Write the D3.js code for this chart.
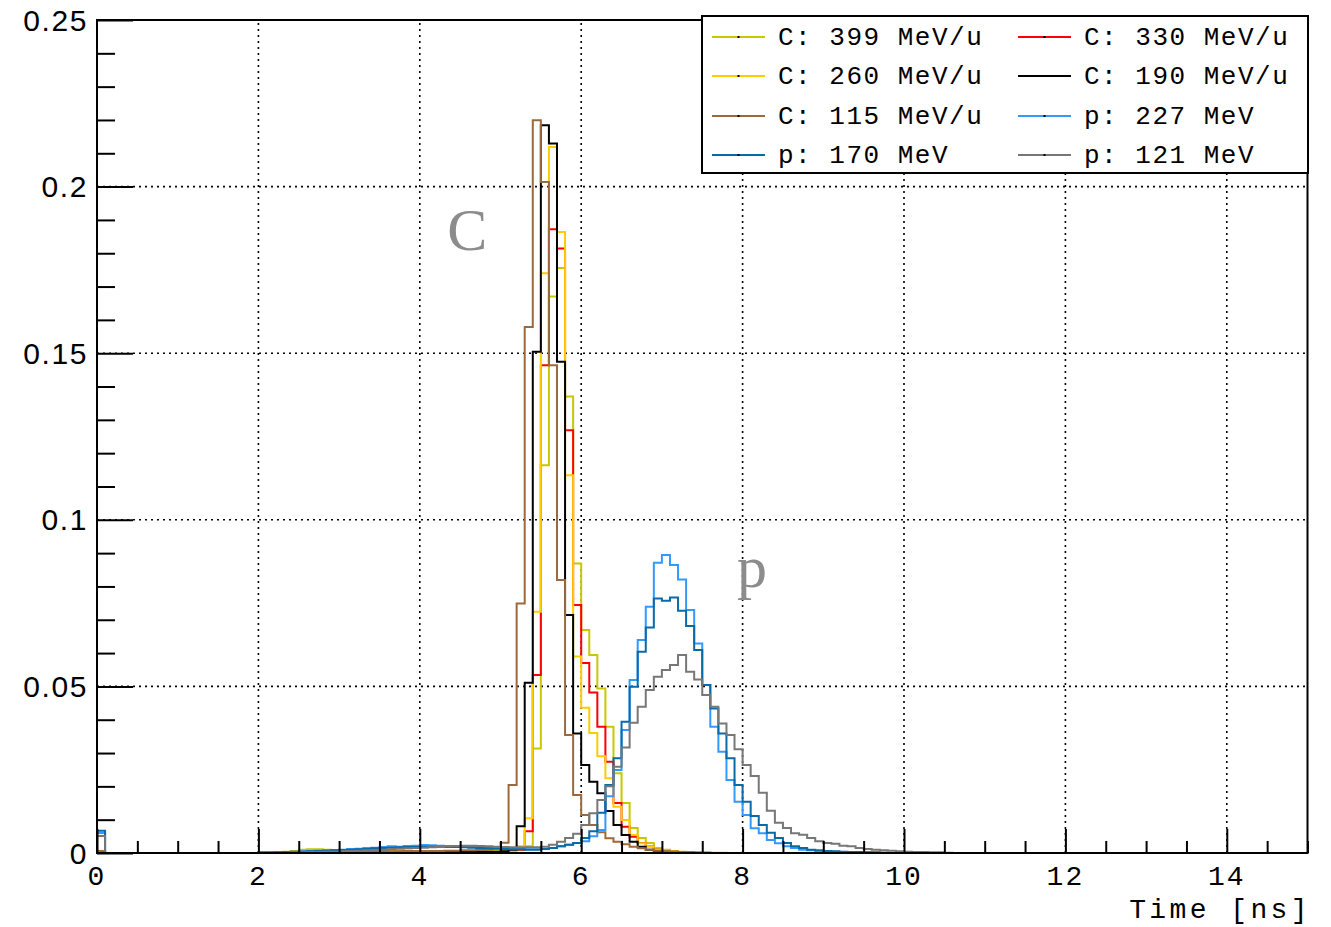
<!DOCTYPE html>
<html>
<head>
<meta charset="utf-8">
<script src="https://cdn.jsdelivr.net/npm/d3@7"></script>
<style>
  html, body { margin: 0; padding: 0; background: #fff; }
  svg { display: block; }
</style>
</head>
<body>
<svg id="chart" width="1331" height="927"></svg>
<script>
// ---------------- DATA ----------------
// Histogram: 150 bins of 0.1 ns from 0 to 15 ns, normalised counts.
const binWidth = 0.1;
const nBins = 150;
// bin index where each series array below starts (2.0 ns)
const seriesStartBin = 20;

const seriesNames = ["C: 399 MeV/u", "C: 330 MeV/u", "C: 260 MeV/u", "C: 190 MeV/u",
                     "C: 115 MeV/u", "p: 227 MeV", "p: 170 MeV", "p: 121 MeV"];
const seriesColors = ["#c8c800", "#ff0000", "#ffcc00", "#000000",
                      "#9c6a3a", "#3399ff", "#0a6aa6", "#777777"];
// value of the first bin (0.0-0.1 ns) for each series
const firstBinValues = [0.0005, 0.0005, 0.0005, 0.0004, 0.0005, 0.0060, 0.0067, 0.0051];

// values from 2.0 ns onwards (bins 20, 21, ...)
const c399 = [
  0.0001,0.0002,0.0003,0.0004,0.0006,0.0010,0.0011,0.0011,0.0010,0.0009, // 2.0-2.9
  0.0008,0.0008,0.0007,0.0007,0.0008,0.0007,0.0007,0.0006,0.0007,0.0006, // 3.0-3.9
  0.0006,0.0006,0.0005,0.0006,0.0005,0.0005,0.0005,0.0006,0.0006,0.0007, // 4.0-4.9
  0.0008,0.0008,0.0010,0.0020,0.0314,0.1164,0.1670,0.1756,0.1370,0.0869, // 5.0-5.9
  0.0669,0.0594,0.0494,0.0379,0.0239,0.0150,0.0075,0.0045,0.0030,0.0015, // 6.0-6.9
  0.0010,0.0006,0.0004,0.0003,0.0002,0.0002,0.0001,0.0001                // 7.0-7.7
];
const c330 = [
  0.0001,0.0001,0.0002,0.0003,0.0003,0.0004,0.0005,0.0005,0.0004,0.0005,
  0.0004,0.0004,0.0005,0.0004,0.0004,0.0005,0.0004,0.0004,0.0004,0.0005,
  0.0004,0.0004,0.0004,0.0005,0.0004,0.0004,0.0004,0.0005,0.0005,0.0006,
  0.0007,0.0008,0.0010,0.0065,0.0534,0.1464,0.1872,0.1814,0.1269,0.0744,
  0.0570,0.0482,0.0379,0.0274,0.0150,0.0079,0.0049,0.0030,0.0020,0.0010,
  0.0006,0.0004,0.0003,0.0002,0.0001,0.0001
];
const c260 = [
  0.0001,0.0001,0.0002,0.0002,0.0003,0.0004,0.0004,0.0005,0.0005,0.0004,
  0.0005,0.0004,0.0004,0.0005,0.0004,0.0004,0.0005,0.0004,0.0004,0.0004,
  0.0005,0.0004,0.0004,0.0004,0.0004,0.0005,0.0004,0.0004,0.0005,0.0006,
  0.0007,0.0008,0.0020,0.0104,0.0724,0.1740,0.2119,0.1864,0.1134,0.0590,
  0.0436,0.0360,0.0290,0.0224,0.0139,0.0099,0.0054,0.0029,0.0020,0.0010,
  0.0006,0.0004,0.0003,0.0002,0.0001,0.0001
];
const c190 = [
  0.0001,0.0001,0.0001,0.0002,0.0002,0.0003,0.0003,0.0003,0.0003,0.0003,
  0.0003,0.0003,0.0003,0.0003,0.0003,0.0003,0.0003,0.0003,0.0003,0.0003,
  0.0003,0.0003,0.0003,0.0003,0.0003,0.0003,0.0003,0.0004,0.0004,0.0004,
  0.0005,0.0010,0.0080,0.0511,0.1504,0.2184,0.2129,0.1474,0.0714,0.0359,
  0.0264,0.0214,0.0179,0.0126,0.0084,0.0054,0.0034,0.0019,0.0010,0.0006,
  0.0004,0.0003,0.0002,0.0001
];
const c115 = [
  0.0001,0.0002,0.0002,0.0003,0.0004,0.0004,0.0005,0.0005,0.0005,0.0005,
  0.0005,0.0005,0.0005,0.0005,0.0005,0.0006,0.0005,0.0005,0.0006,0.0005,
  0.0006,0.0006,0.0006,0.0007,0.0007,0.0008,0.0008,0.0009,0.0011,0.0015,
  0.0031,0.0204,0.0749,0.1579,0.2199,0.2014,0.1464,0.0819,0.0354,0.0174,
  0.0114,0.0084,0.0062,0.0044,0.0034,0.0026,0.0019,0.0014,0.0010,0.0007,
  0.0005,0.0004,0.0003,0.0002,0.0001
];
const p227 = [
  0.0001,0.0002,0.0002,0.0003,0.0004,0.0005,0.0006,0.0007,0.0008,0.0009,
  0.0010,0.0012,0.0013,0.0015,0.0016,0.0018,0.0020,0.0019,0.0021,0.0022,
  0.0024,0.0023,0.0022,0.0021,0.0020,0.0019,0.0018,0.0016,0.0015,0.0014,
  0.0013,0.0012,0.0012,0.0011,0.0011,0.0012,0.0015,0.0020,0.0025,0.0030,
  0.0035,0.0050,0.0069,0.0170,0.0249,0.0369,0.0519,0.0639,0.0739,0.0871,
  0.0894,0.0864,0.0821,0.0729,0.0629,0.0504,0.0379,0.0304,0.0219,0.0154,
  0.0114,0.0074,0.0059,0.0039,0.0029,0.0020,0.0015,0.0010,0.0008,0.0006,
  0.0005,0.0004,0.0003,0.0003,0.0002,0.0002,0.0001,0.0001
];
const p170 = [
  0.0001,0.0001,0.0002,0.0003,0.0003,0.0004,0.0005,0.0006,0.0007,0.0008,
  0.0009,0.0010,0.0011,0.0012,0.0014,0.0015,0.0016,0.0017,0.0018,0.0018,
  0.0019,0.0019,0.0019,0.0018,0.0018,0.0017,0.0016,0.0015,0.0014,0.0013,
  0.0012,0.0011,0.0011,0.0010,0.0010,0.0012,0.0015,0.0020,0.0025,0.0030,
  0.0045,0.0065,0.0121,0.0204,0.0284,0.0394,0.0499,0.0604,0.0677,0.0764,
  0.0757,0.0767,0.0727,0.0681,0.0609,0.0504,0.0434,0.0359,0.0284,0.0204,
  0.0154,0.0111,0.0084,0.0061,0.0045,0.0030,0.0020,0.0015,0.0010,0.0008,
  0.0006,0.0005,0.0004,0.0003,0.0003,0.0002,0.0002,0.0001
];
const p121 = [
  0.0000,0.0001,0.0001,0.0001,0.0002,0.0002,0.0003,0.0003,0.0004,0.0004,
  0.0005,0.0006,0.0007,0.0008,0.0009,0.0010,0.0012,0.0013,0.0014,0.0015,
  0.0016,0.0017,0.0018,0.0020,0.0021,0.0022,0.0022,0.0021,0.0020,0.0019,
  0.0018,0.0017,0.0017,0.0017,0.0017,0.0019,0.0025,0.0034,0.0045,0.0058,
  0.0084,0.0119,0.0159,0.0200,0.0259,0.0317,0.0391,0.0439,0.0489,0.0529,
  0.0549,0.0564,0.0594,0.0544,0.0521,0.0474,0.0439,0.0389,0.0354,0.0311,
  0.0264,0.0231,0.0181,0.0127,0.0091,0.0075,0.0059,0.0055,0.0045,0.0035,
  0.0030,0.0028,0.0022,0.0020,0.0015,0.0012,0.0010,0.0008,0.0007,0.0005,
  0.0004,0.0003,0.0003,0.0002,0.0002,0.0001
];
const seriesValues = [c399, c330, c260, c190, c115, p227, p170, p121];

const xMajorTicks = [0, 2, 4, 6, 8, 10, 12, 14];
const yMajorTicks = [0, 0.05, 0.1, 0.15, 0.2, 0.25];
const yTickLabels = ["0", "0.05", "0.1", "0.15", "0.2", "0.25"];
const xTitle = "Time [ns]";
const annotations = [{text: "C", t: 4.34, v: 0.181}, {text: "p", t: 7.93, v: 0.0798}];

// ---------------- DRAW ----------------
(function () {
const svg = d3.select("#chart");
const pL = 97, pR = 1307.5, pT = 20, pB = 853;
const x = d3.scaleLinear().domain([0, 15]).range([pL, pR]);
const y = d3.scaleLinear().domain([0, 0.25]).range([pB, pT]);

// grid
const grid = svg.append("g").attr("stroke", "#000").attr("stroke-width", 1.6)
  .attr("stroke-dasharray", "2 4");
xMajorTicks.filter(t => t > 0).forEach(t => {
  grid.append("line").attr("x1", x(t)).attr("x2", x(t)).attr("y1", y(0)).attr("y2", y(0.25));
});
yMajorTicks.filter(v => v > 0 && v < 0.25).forEach(v => {
  grid.append("line").attr("x1", x(0)).attr("x2", x(15)).attr("y1", y(v)).attr("y2", y(v));
});

// histograms
function fullBins(i) {
  const arr = new Array(nBins).fill(0);
  arr[0] = firstBinValues[i];
  seriesValues[i].forEach((v, k) => { arr[seriesStartBin + k] = v; });
  return arr;
}
const histG = svg.append("g").attr("fill", "none").attr("stroke-width", 2)
  .attr("stroke-linejoin", "miter");
seriesValues.forEach((_, i) => {
  const bins = fullBins(i);
  let d = `M${x(0)},${y(0)}`;
  bins.forEach((v, k) => {
    d += `V${y(v)}H${x((k + 1) * binWidth)}`;
  });
  d += `V${y(0)}`;
  histG.append("path").attr("d", d).attr("stroke", seriesColors[i]);
});

// frame
svg.append("rect").attr("x", pL).attr("y", pT).attr("width", pR - pL)
  .attr("height", pB - pT).attr("fill", "none").attr("stroke", "#000").attr("stroke-width", 2);

// x axis ticks (inside) and labels
const xAxis = d3.axisBottom(x)
  .tickValues(d3.range(0, 15.01, 0.5))
  .tickSize(0).tickFormat("");
const xAxisG = svg.append("g").attr("transform", `translate(0,${pB})`).call(xAxis);
xAxisG.select(".domain").remove();
xAxisG.selectAll(".tick").append("line")
  .attr("y1", 0)
  .attr("y2", d => (Math.abs(d % 2) < 1e-9 ? -24 : -12))
  .attr("stroke", "#000").attr("stroke-width", 2);
svg.append("g").selectAll("text").data(xMajorTicks).join("text")
  .attr("x", d => x(d)).attr("y", pB + 32)
  .attr("text-anchor", "middle")
  .attr("font-family", "Liberation Mono, monospace").attr("font-size", 28)
  .attr("letter-spacing", 2)
  .text(d => d);

// y axis ticks (inside) and labels
const yAxis = d3.axisLeft(y).tickValues(d3.range(0, 0.2501, 0.01)).tickSize(0).tickFormat("");
const yAxisG = svg.append("g").attr("transform", `translate(${pL},0)`).call(yAxis);
yAxisG.select(".domain").remove();
yAxisG.selectAll(".tick").append("line")
  .attr("x1", 0)
  .attr("x2", (d, i) => (i % 5 === 0 ? 36 : 18))
  .attr("stroke", "#000").attr("stroke-width", 2);
svg.append("g").selectAll("text").data(yMajorTicks).join("text")
  .attr("x", pL - 9).attr("y", d => y(d) + 10.5)
  .attr("text-anchor", "end")
  .attr("font-family", "Liberation Sans, Arial, sans-serif").attr("font-size", 30)
  .attr("letter-spacing", 1.6)
  .text((d, i) => yTickLabels[i]);

// x title
svg.append("text").attr("x", 1311).attr("y", 918).attr("text-anchor", "end")
  .attr("font-family", "Liberation Mono, monospace").attr("font-size", 28)
  .attr("letter-spacing", 3.4)
  .text(xTitle);

// annotations
svg.append("g").selectAll("text").data(annotations).join("text")
  .attr("x", d => x(d.t)).attr("y", d => y(d.v))
  .attr("font-family", "Liberation Serif, serif").attr("font-size", 60)
  .attr("fill", "#8c8c8c")
  .text(d => d.text);

// legend
const lg = svg.append("g");
lg.append("rect").attr("x", 702).attr("y", 16).attr("width", 606).attr("height", 157)
  .attr("fill", "#fff").attr("stroke", "#000").attr("stroke-width", 2);
const colX = [712, 1018];
const rowY = [37, 76, 116, 155];
const order = [[0, 1], [2, 3], [4, 5], [6, 7]];
order.forEach((row, r) => {
  row.forEach((si, c) => {
    const x0 = colX[c];
    lg.append("line").attr("x1", x0).attr("x2", x0 + 53).attr("y1", rowY[r]).attr("y2", rowY[r])
      .attr("stroke", seriesColors[si]).attr("stroke-width", 2);
    lg.append("rect").attr("x", x0 + 25.5).attr("y", rowY[r] - 1).attr("width", 2).attr("height", 2)
      .attr("fill", "#000");
    lg.append("text").attr("x", x0 + 66).attr("y", rowY[r] + 8)
      .attr("font-family", "Liberation Mono, monospace").attr("font-size", 26)
      .attr("letter-spacing", 1.5)
      .text(seriesNames[si]);
  });
});
})();
</script>
</body>
</html>
